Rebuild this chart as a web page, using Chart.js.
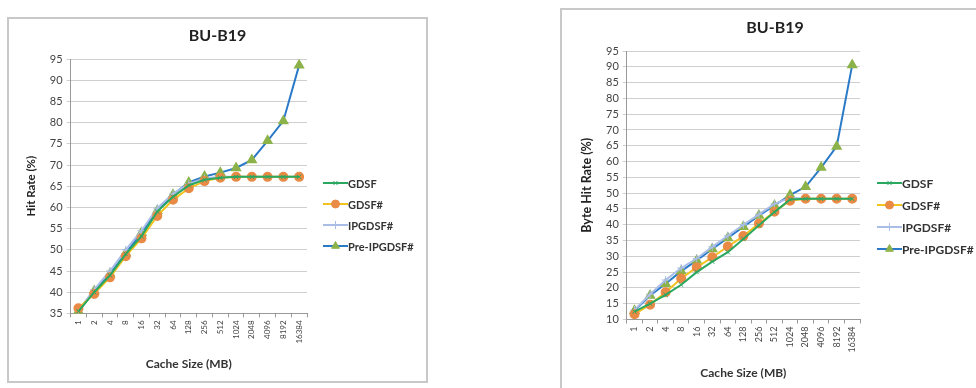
<!DOCTYPE html>
<html>
<head>
<meta charset="utf-8">
<script src="https://cdn.jsdelivr.net/npm/chart.js@4"></script>
<style>
  body { margin: 0; width: 976px; height: 388px; overflow: hidden; background: #fff; position: relative; }
  .box { position: absolute; border: 2px solid #c8c8c8; box-sizing: border-box; background: #fff; }
  #boxA { left: 7px; top: 17px; width: 421px; height: 366px; }
  #boxB { left: 560px; top: 8px; width: 430px; height: 392px; }
</style>
</head>
<body>
<div class="box" id="boxA"><canvas id="hit"></canvas></div>
<div class="box" id="boxB"><canvas id="byteHit"></canvas></div>
<script>
const cacheSizes = ["1", "2", "4", "8", "16", "32", "64", "128", "256", "512", "1024", "2048", "4096", "8192", "16384"];

// hit rate (%)
const hitGDSF     = [35.5, 40.0, 44.0, 49.0, 53.2, 59.0, 62.5, 65.2, 66.5, 67.0, 67.2, 67.2, 67.2, 67.2, 67.2];
const hitGDSFs    = [36.2, 39.6, 43.5, 48.5, 52.7, 58.0, 61.8, 64.5, 66.2, 67.0, 67.2, 67.2, 67.2, 67.2, 67.2];
const hitIPGDSF   = [35.8, 40.6, 45.0, 50.0, 54.5, 59.8, 63.2, 65.6, 66.8, 67.2, 67.2, 67.2, 67.2, 67.2, 67.2];
const hitPre      = [35.5, 40.3, 44.3, 49.2, 54.0, 59.2, 63.0, 65.9, 67.3, 68.2, 69.3, 71.2, 75.7, 80.4, 93.5];

// byte hit rate (%)
const byteGDSF    = [12.5, 15.0, 17.8, 21.0, 25.0, 28.3, 31.3, 35.5, 39.8, 44.0, 48.0, 48.2, 48.2, 48.2, 48.2];
const byteGDSFs   = [11.7, 14.7, 18.6, 23.0, 26.5, 29.7, 33.1, 36.4, 40.4, 44.1, 47.6, 48.2, 48.2, 48.2, 48.2];
const byteIPGDSF  = [13.0, 18.0, 22.5, 26.3, 29.3, 33.0, 36.5, 40.0, 43.3, 46.6, 48.5, 48.2, 48.2, 48.2, 48.2];
const bytePre     = [12.8, 17.6, 21.3, 25.3, 28.7, 32.3, 35.8, 39.4, 42.9, 46.1, 49.4, 52.0, 58.1, 64.8, 90.6];

const seriesNames = ["GDSF", "GDSF#", "IPGDSF#", "Pre-IPGDSF#"];
const chartTitle = "BU-B19";

const font = "Lato, 'Open Sans', sans-serif";

function makeSets(values) {
  return [
    { label: seriesNames[0], data: values[0], borderColor: "#2aa860", backgroundColor: "#2aa860",
      pointStyle: "crossRot", pointRadius: 3, pointBorderWidth: 1, borderWidth: 2 },
    { label: seriesNames[1], data: values[1], borderColor: "#f2c31e", backgroundColor: "#e98a45",
      pointBorderColor: "#e98a45", pointStyle: "circle", pointRadius: 4, borderWidth: 2 },
    { label: seriesNames[2], data: values[2], borderColor: "#a9bde6", backgroundColor: "#a9bde6",
      pointStyle: "cross", pointRadius: 4, pointBorderWidth: 1, borderWidth: 2 },
    { label: seriesNames[3], data: values[3], borderColor: "#2a7ac8", backgroundColor: "#8cb24a",
      pointBorderColor: "#8cb24a", pointStyle: "triangle", pointRadius: 4.5, borderWidth: 2 },
  ];
}

// title centred on the whole box + legend (line and marker) right of the plot
const boxDeco = {
  id: "boxDeco",
  afterDraw(chart, args, opts) {
    const ctx = chart.ctx;
    ctx.save();
    ctx.fillStyle = "#222";
    ctx.font = "bold 16px " + font;
    ctx.textAlign = "center";
    ctx.textBaseline = "middle";
    ctx.fillText(chartTitle, chart.width / 2, opts.titleY);
    ctx.restore();

    const x0 = chart.chartArea.right + opts.gap;
    chart.data.datasets.forEach((ds, i) => {
      const y = opts.top + i * opts.step;
      ctx.save();
      ctx.strokeStyle = ds.borderColor;
      ctx.lineWidth = 2;
      ctx.beginPath();
      ctx.moveTo(x0, y);
      ctx.lineTo(x0 + 25, y);
      ctx.stroke();
      ctx.fillStyle = ds.pointBorderColor || ds.backgroundColor;
      ctx.strokeStyle = ds.pointBorderColor || ds.backgroundColor;
      ctx.lineWidth = 1;
      Chart.helpers.drawPoint(ctx, {
        pointStyle: ds.pointStyle, radius: ds.pointRadius, rotation: 0, borderWidth: 1
      }, x0 + 12.5, y);
      ctx.fillStyle = "#333";
      ctx.font = "bold " + opts.size + "px " + font;
      ctx.textAlign = "left";
      ctx.textBaseline = "middle";
      ctx.fillText(ds.label, x0 + 25, y + 1);
      ctx.restore();
    });
  }
};

function makeChart(id, values, yTitle, yMin, pad, deco, sz) {
  return new Chart(document.getElementById(id), {
    type: "line",
    data: { labels: cacheSizes, datasets: makeSets(values) },
    plugins: [boxDeco],
    options: {
      responsive: true,
      maintainAspectRatio: false,
      animation: false,
      layout: { padding: pad },
      plugins: {
        legend: { display: false },
        tooltip: { enabled: false },
        title: { display: false },
        boxDeco: deco,
      },
      scales: {
        x: {
          offset: true,
          grid: { display: true, drawOnChartArea: false, offset: true, tickLength: 4, color: "#999" },
          border: { color: "#999" },
          ticks: { color: "#444", font: { family: font, size: sz.x }, maxRotation: 90, minRotation: 90, padding: 3 },
          title: { display: true, text: "Cache Size (MB)", color: "#333",
                   font: { family: font, size: 12, weight: "bold" }, padding: { top: 10 } }
        },
        y: {
          min: yMin, max: 95,
          ticks: { stepSize: 5, autoSkip: false, color: "#444", font: { family: font, size: sz.y }, padding: 4 },
          grid: { color: "#cfcfcf", tickLength: 4 },
          border: { color: "#999" },
          title: { display: true, text: yTitle, color: "#222",
                   font: { family: font, size: sz.t, weight: "bold" }, padding: { bottom: 8 } }
        }
      }
    }
  });
}

makeChart("hit", [hitGDSF, hitGDSFs, hitIPGDSF, hitPre], "Hit Rate (%)", 35,
  { left: 11, right: 119, top: 40, bottom: 6 },
  { titleY: 17, gap: 16, top: 164, step: 21, size: 11 }, { x: 8, y: 11, t: 11.5 });
makeChart("byteHit", [byteGDSF, byteGDSFs, byteIPGDSF, bytePre], "Byte Hit Rate (%)", 10,
  { left: 13, right: 128, top: 41, bottom: 14 },
  { titleY: 18, gap: 17, top: 173, step: 22, size: 12 }, { x: 9, y: 11, t: 12.5 });
</script>
</body>
</html>
